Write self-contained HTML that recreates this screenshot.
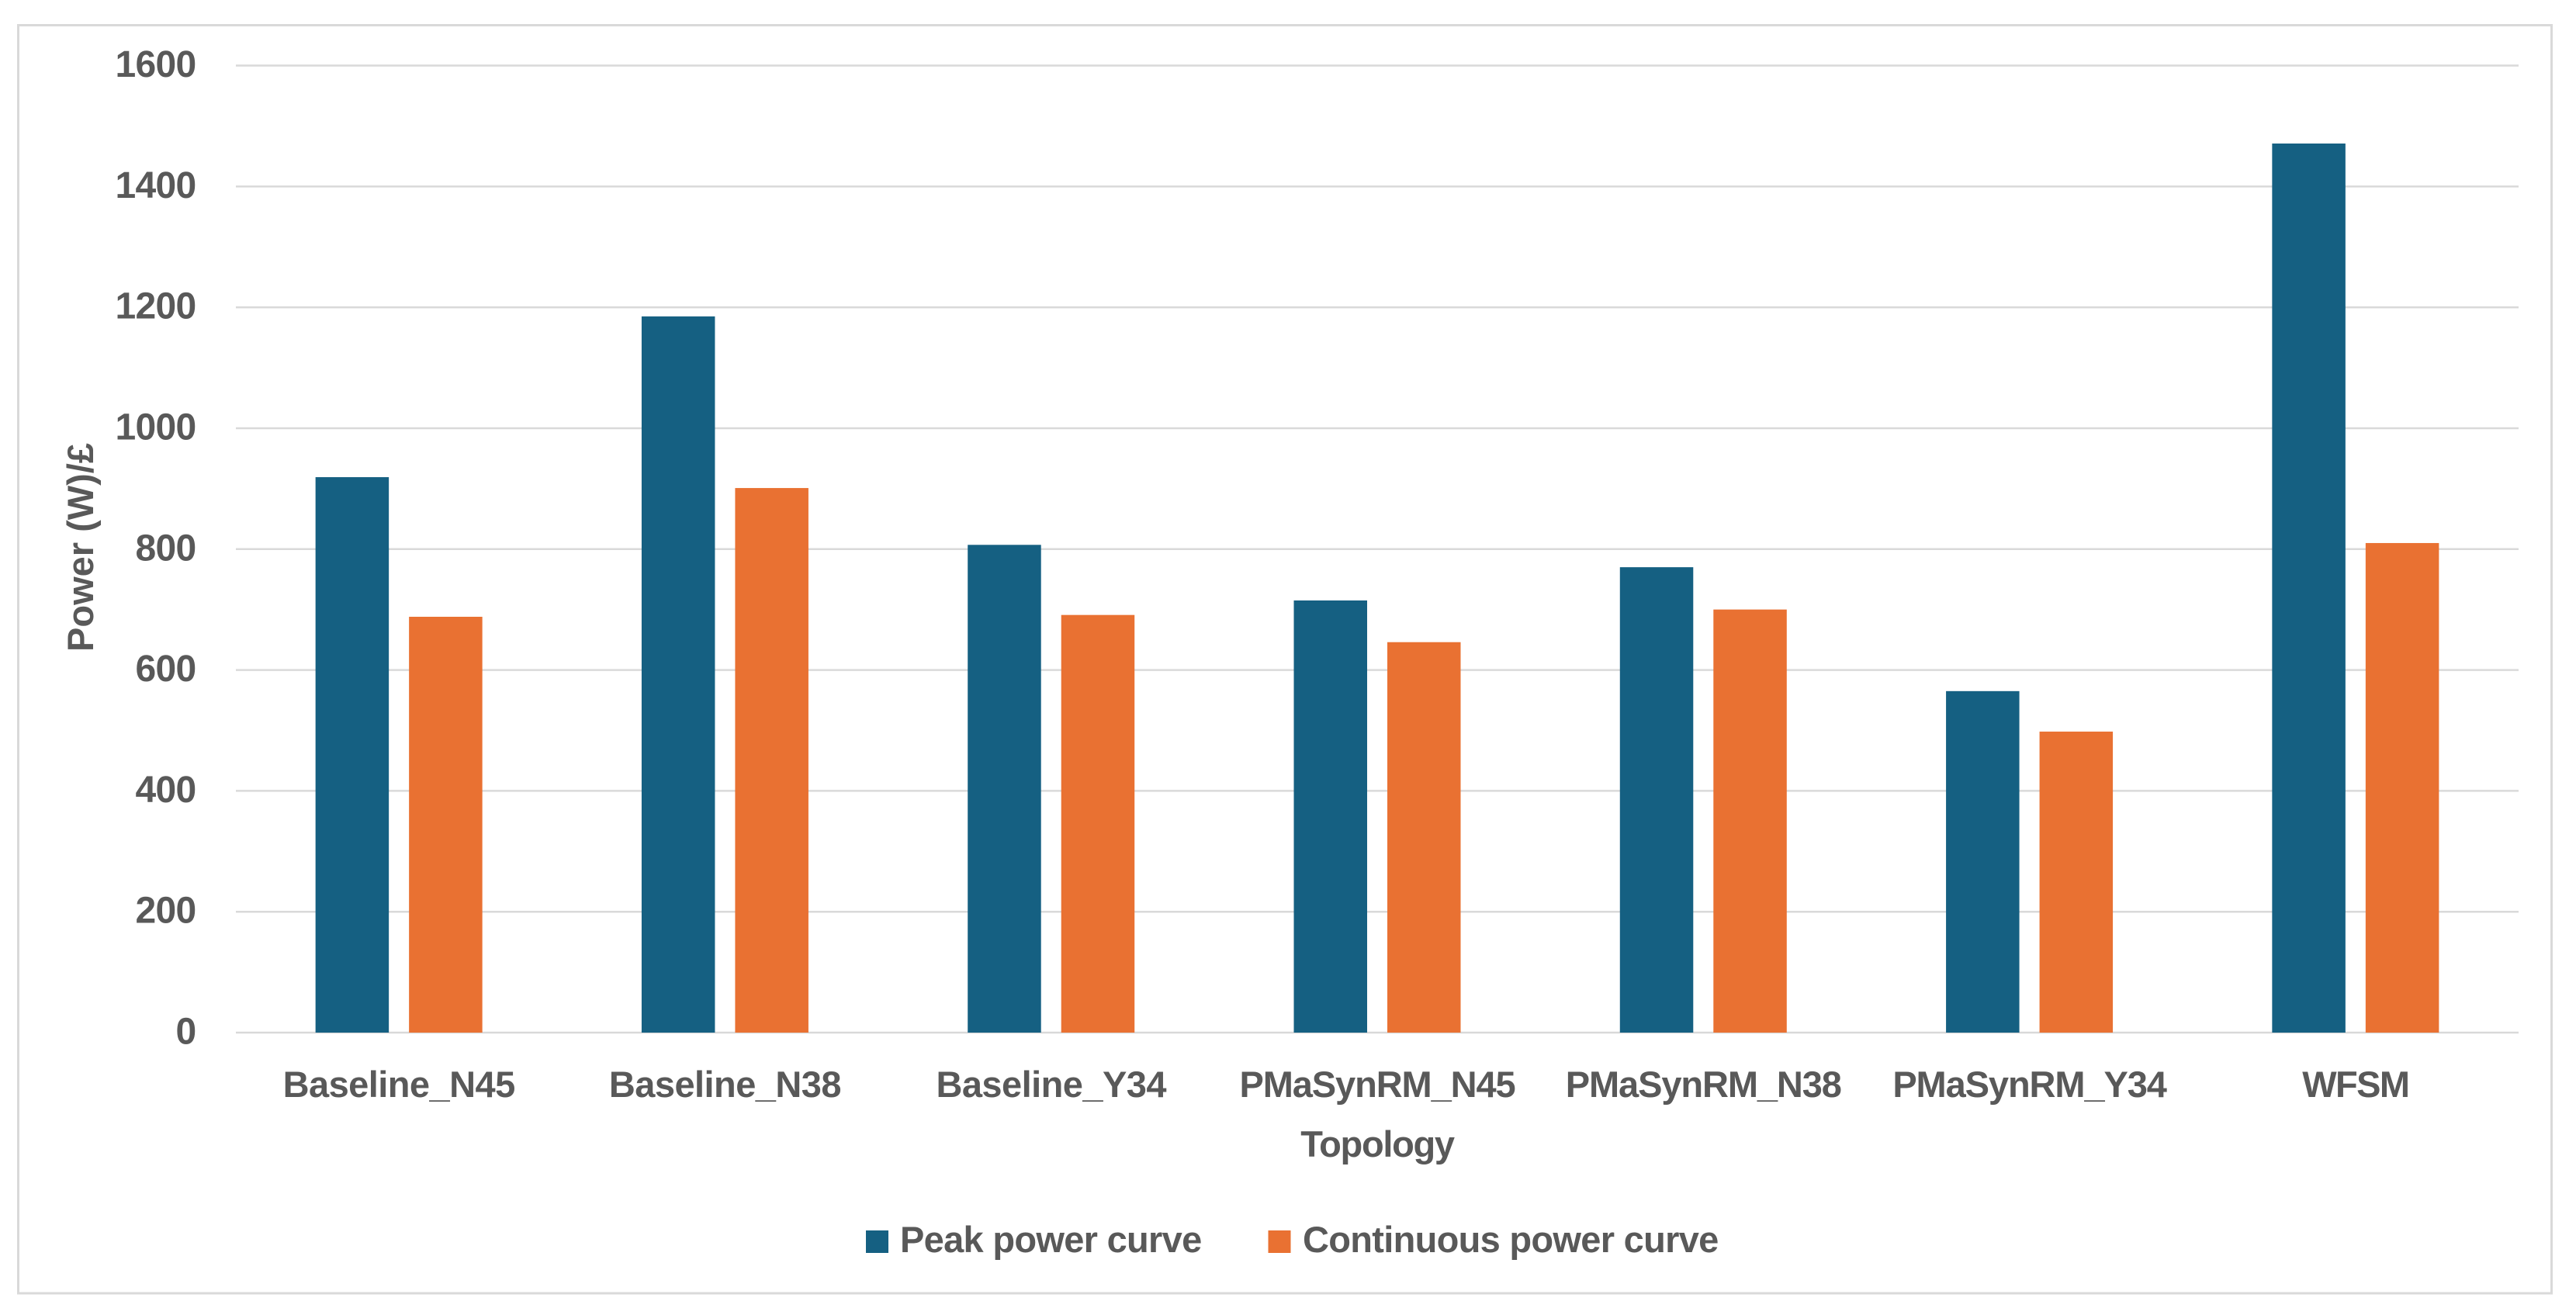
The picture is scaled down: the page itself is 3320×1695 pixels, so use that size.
<!DOCTYPE html>
<html lang="en">
<head>
<meta charset="utf-8">
<title>Power per cost by topology</title>
<style>
  html, body { margin: 0; padding: 0; background: #ffffff; }
  body { width: 3320px; height: 1695px; overflow: hidden; }
  svg { display: block; }
  text { font-family: "Liberation Sans", sans-serif; font-weight: 700; fill: #595959; }
</style>
</head>
<body>
<svg id="chart" xmlns="http://www.w3.org/2000/svg" width="3320" height="1695" viewBox="0 0 3320 1695">
  <rect x="0" y="0" width="3320" height="1695" fill="#ffffff"/>
  <rect x="23.5" y="32.5" width="3265" height="1634.5" fill="none" stroke="#d9d9d9" stroke-width="3"/>
  <g id="grid"></g>
  <g id="bars"></g>
  <g id="yticks"></g>
  <g id="xticks"></g>
  <text transform="translate(120,705.5) rotate(-90)" text-anchor="middle" font-size="47">Power (W)/£</text>
  <text x="1775" y="1491" text-anchor="middle" font-size="47" letter-spacing="-1.3">Topology</text>
  <g>
    <rect x="1116" y="1586" width="29" height="29" fill="#156082"/>
    <text x="1160" y="1614" font-size="47" letter-spacing="-0.7">Peak power curve</text>
    <rect x="1634.5" y="1586" width="29" height="29" fill="#E97132"/>
    <text x="1679" y="1614" font-size="47" letter-spacing="-0.7">Continuous power curve</text>
  </g>
</svg>
<script>
const categories = ["Baseline_N45", "Baseline_N38", "Baseline_Y34", "PMaSynRM_N45", "PMaSynRM_N38", "PMaSynRM_Y34", "WFSM"];
const peakPower = [919, 1185, 807, 715, 770, 565, 1471];
const continuousPower = [688, 901, 691, 646, 700, 498, 810];
const yTickValues = [0, 200, 400, 600, 800, 1000, 1200, 1400, 1600];

const NS = "http://www.w3.org/2000/svg";
const plotLeft = 304, plotRight = 3246, plotBottom = 1331, plotTop = 84.5;
const yMax = 1600;
const bandWidth = (plotRight - plotLeft) / categories.length;
const barWidth = 94.5, barGap = 26;

function yScale(v) { return plotBottom - (v / yMax) * (plotBottom - plotTop); }
function xCenter(i) { return plotLeft + bandWidth * (i + 0.5); }
function labelSpacing(c) {
  if (c.indexOf("Baseline") === 0) return -0.55;
  if (c.indexOf("PMa") === 0) return -1.1;
  return -1.6;
}
function make(tag, attrs, parent) {
  const el = document.createElementNS(NS, tag);
  for (const k in attrs) el.setAttribute(k, attrs[k]);
  parent.appendChild(el);
  return el;
}

const gridG = document.getElementById("grid");
const yG = document.getElementById("yticks");
yTickValues.forEach(function (v) {
  const y = yScale(v);
  const line = make("line", { x1: plotLeft, x2: plotRight, y1: y, y2: y, stroke: "#d9d9d9", "stroke-width": 2.5 }, gridG);
  
  
  const t = make("text", { x: 252.5, y: y + 14.5, "text-anchor": "end", "font-size": 48, "letter-spacing": -0.7 }, yG);
  t.textContent = String(v);
  
  
});

const barsG = document.getElementById("bars");
const xG = document.getElementById("xticks");
categories.forEach(function (c, i) {
  const cx = xCenter(i);
  const pk = make("rect", { x: cx - barGap / 2 - barWidth, y: yScale(peakPower[i]), width: barWidth, height: plotBottom - yScale(peakPower[i]), fill: "#156082" }, barsG);
  
  
  const co = make("rect", { x: cx + barGap / 2, y: yScale(continuousPower[i]), width: barWidth, height: plotBottom - yScale(continuousPower[i]), fill: "#E97132" }, barsG);
  
  
  const t = make("text", { x: cx, y: 1414, "text-anchor": "middle", "font-size": 47, "letter-spacing": labelSpacing(c) }, xG);
  t.textContent = c;
  
  
});
</script>
</body>
</html>
